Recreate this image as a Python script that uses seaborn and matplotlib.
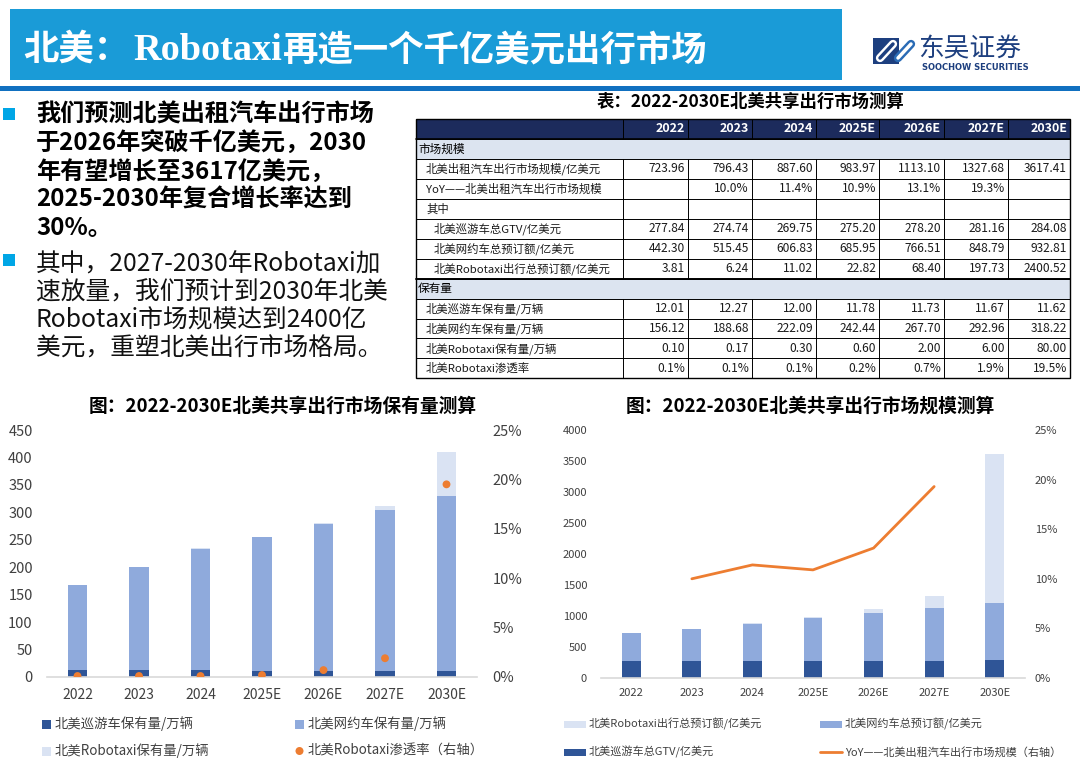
import numpy as np
import pandas as pd
import matplotlib
matplotlib.use("Agg")
import matplotlib.pyplot as plt
from matplotlib.patches import Rectangle, Circle, Polygon
from matplotlib.lines import Line2D
import seaborn as sns

# ---------------- data ----------------
years = ['2022', '2023', '2024', '2025E', '2026E', '2027E', '2030E']
taxi_market = [723.96, 796.43, 887.60, 983.97, 1113.10, 1327.68, 3617.41]
taxi_yoy = [np.nan, 10.0, 11.4, 10.9, 13.1, 19.3, np.nan]
cruise_gtv = [277.84, 274.74, 269.75, 275.20, 278.20, 281.16, 284.08]
ridehail_gmv = [442.30, 515.45, 606.83, 685.95, 766.51, 848.79, 932.81]
robotaxi_gmv = [3.81, 6.24, 11.02, 22.82, 68.40, 197.73, 2400.52]
cruise_fleet = [12.01, 12.27, 12.00, 11.78, 11.73, 11.67, 11.62]
ridehail_fleet = [156.12, 188.68, 222.09, 242.44, 267.70, 292.96, 318.22]
robotaxi_fleet = [0.10, 0.17, 0.30, 0.60, 2.00, 6.00, 80.00]
robotaxi_pen = [0.1, 0.1, 0.1, 0.2, 0.7, 1.9, 19.5]

fleet_ticks = [0, 50, 100, 150, 200, 250, 300, 350, 400, 450]
market_ticks = [0, 500, 1000, 1500, 2000, 2500, 3000, 3500, 4000]
pct_ticks = [0, 5, 10, 15, 20, 25]

page_title_parts = ['北美：', 'Robotaxi', '再造一个千亿美元出行市场']
bold_lines = ['我们预测北美出租汽车出行市场', '于2026年突破千亿美元，2030',
              '年有望增长至3617亿美元，', '2025-2030年复合增长率达到', '30%。']
normal_lines = ['其中，2027-2030年Robotaxi加', '速放量，我们预计到2030年北美',
                'Robotaxi市场规模达到2400亿', '美元，重塑北美出行市场格局。']
table_title = '表：2022-2030E北美共享出行市场测算'
chart1_title = '图：2022-2030E北美共享出行市场保有量测算'
chart2_title = '图：2022-2030E北美共享出行市场规模测算'
legend1_labels = ['北美巡游车保有量/万辆', '北美网约车保有量/万辆',
                  '北美Robotaxi保有量/万辆', '北美Robotaxi渗透率（右轴）']
legend2_labels = ['北美Robotaxi出行总预订额/亿美元', '北美网约车总预订额/亿美元',
                  '北美巡游车总GTV/亿美元', 'YoY——北美出租汽车出行市场规模（右轴）']

# ---------------- style ----------------
sns.set_theme(style='white')
plt.rcParams['font.family'] = ['Noto Sans CJK SC', 'DejaVu Sans']
plt.rcParams['axes.unicode_minus'] = False

DARK = '#2f5597'
MID = '#8faadc'
LIGHT = '#dae3f3'
ORANGE = '#ed7d31'
TXT = '#404040'

W, H = 1080, 772
fig = plt.figure(figsize=(W / 100, H / 100), dpi=100)
bg = fig.add_axes([0, 0, 1, 1])
bg.set_xlim(0, W)
bg.set_ylim(H, 0)
bg.axis('off')


def pax(x0, y0, x1, y1):
    return [x0 / W, 1 - y1 / H, (x1 - x0) / W, (y1 - y0) / H]


# ---------------- header ----------------
bg.add_patch(Rectangle((10, 9), 832, 71, color='#1a9bd7', lw=0))
bg.add_patch(Rectangle((0, 86), W, 5, color='#1170c0', lw=0))
bg.text(23, 60, page_title_parts[0], color='white', fontsize=25.5, fontweight='bold', va='baseline')
bg.text(133, 60, page_title_parts[1], color='white', fontsize=27.5, fontweight='bold',
        family=['Liberation Serif', 'DejaVu Serif'], va='baseline')
bg.text(283, 60, page_title_parts[2], color='white', fontsize=25.5, fontweight='bold', va='baseline')

# logo
bg.add_patch(Polygon([(873, 38), (899, 38), (899, 64), (873, 64)], closed=True, color='#1d3f7f', lw=0))
bg.add_line(Line2D([880, 893], [58, 44], color='white', lw=6, solid_capstyle='round'))
bg.add_line(Line2D([880, 893], [58, 44], color='#1d3f7f', lw=2.5, solid_capstyle='round'))
bg.add_line(Line2D([898, 911], [58, 44], color='#2a6bb5', lw=6, solid_capstyle='round'))
bg.add_line(Line2D([898, 911], [58, 44], color='white', lw=2.5, solid_capstyle='round'))
bg.text(918, 49, '东吴证券', color='#1d3f7f', fontsize=18.5, va='center', ha='left')
bg.text(922, 68, 'SOOCHOW SECURITIES', color='#1d3f7f', fontsize=6, fontweight='bold',
        va='center', ha='left', family=['DejaVu Sans'])

# ---------------- left text block ----------------
for yb in (114, 260):
    bg.add_patch(Rectangle((3, yb - 6), 12, 12, color='#00a6e6', lw=0))
for i, line in enumerate(bold_lines):
    bg.text(36, 115 + i * 28.3, line, fontsize=17.4, fontweight='bold', color='black', va='center')
for i, line in enumerate(normal_lines):
    bg.text(36, 265 + i * 27.7, line, fontsize=17.8, color='#111111', va='center')

# ---------------- table ----------------
bg.text(750, 102, table_title, fontsize=12.5, fontweight='bold', ha='center', va='center', color='black')
col_edges = [416, 623, 688, 752, 816, 879, 944, 1008, 1070]
row_top, row_h = 119, 19.95


def fmt2(v):
    return f'{v:.2f}'


def fmtp(v):
    return '' if (v is None or (isinstance(v, float) and np.isnan(v))) else f'{v:.1f}%'


rows = [
    ('header', None, None, 0),
    ('section', '市场规模', None, 0),
    ('data', '北美出租汽车出行市场规模/亿美元', [fmt2(v) for v in taxi_market], 1),
    ('data', 'YoY——北美出租汽车出行市场规模', [fmtp(v) for v in taxi_yoy], 1),
    ('data', '其中', [''] * 7, 1),
    ('data', '北美巡游车总GTV/亿美元', [fmt2(v) for v in cruise_gtv], 2),
    ('data', '北美网约车总预订额/亿美元', [fmt2(v) for v in ridehail_gmv], 2),
    ('data', '北美Robotaxi出行总预订额/亿美元', [fmt2(v) for v in robotaxi_gmv], 2),
    ('section', '保有量', None, 0),
    ('data', '北美巡游车保有量/万辆', [fmt2(v) for v in cruise_fleet], 1),
    ('data', '北美网约车保有量/万辆', [fmt2(v) for v in ridehail_fleet], 1),
    ('data', '北美Robotaxi保有量/万辆', [fmt2(v) for v in robotaxi_fleet], 1),
    ('data', '北美Robotaxi渗透率', [fmtp(v) for v in robotaxi_pen], 1),
]
indent_x = {0: 418, 1: 426, 2: 434}
x0t, x1t = col_edges[0], col_edges[-1]
for r, (kind, label, vals, ind) in enumerate(rows):
    y0 = row_top + r * row_h
    yc = y0 + row_h / 2
    if kind == 'header':
        bg.add_patch(Rectangle((x0t, y0), x1t - x0t, row_h, color='#1c2b5c', lw=0))
        for c, yr in enumerate(years):
            bg.text(col_edges[c + 2] - 3, yc, yr, color='white', fontsize=9, fontweight='bold',
                    ha='right', va='center')
        for xe in col_edges[1:-1]:
            bg.add_line(Line2D([xe, xe], [y0, y0 + row_h], color='black', lw=0.7))
    elif kind == 'section':
        bg.add_patch(Rectangle((x0t, y0), x1t - x0t, row_h, color='#dce4f0', lw=0))
        bg.text(indent_x[ind], yc, label, fontsize=8.4, color='black', ha='left', va='center')
    else:
        bg.text(indent_x[ind], yc, label, fontsize=8.2, color='#1a1a1a', ha='left', va='center')
        for c, v in enumerate(vals):
            bg.text(col_edges[c + 2] - 3, yc, v, fontsize=8.6, color='#1a1a1a', ha='right', va='center')
        for xe in col_edges[1:-1]:
            bg.add_line(Line2D([xe, xe], [y0, y0 + row_h], color='black', lw=0.7))
    bg.add_line(Line2D([x0t, x1t], [y0, y0], color='black', lw=0.7))
bg.add_line(Line2D([x0t, x1t], [row_top + 8 * row_h] * 2, color='black', lw=1.4))
bg.add_line(Line2D([x0t, x1t], [row_top + 1 * row_h] * 2, color='black', lw=1.2))
bg.add_patch(Rectangle((x0t, row_top), x1t - x0t, len(rows) * row_h, fill=False, ec='black', lw=1.0))


# ---------------- chart helpers ----------------
def style_axes(ax, axr, xsize, ysize, rsize, lpad, rpad, xpad):
    for s in ['top', 'right', 'left']:
        ax.spines[s].set_visible(False)
    ax.spines['bottom'].set_color('#d9d9d9')
    ax.spines['bottom'].set_linewidth(1.2)
    for s in axr.spines.values():
        s.set_visible(False)
    ax.tick_params(axis='y', length=0, labelsize=ysize, labelcolor=TXT, pad=lpad)
    ax.tick_params(axis='x', length=0, labelsize=xsize, labelcolor=TXT, pad=xpad)
    axr.tick_params(axis='y', length=0, labelsize=rsize, labelcolor=TXT, pad=rpad)
    ax.set_xlabel('')
    ax.set_ylabel('')
    axr.set_xlabel('')
    axr.set_ylabel('')
    ax.grid(False)
    axr.grid(False)


bar_kw = dict(width=0.31, saturation=1, linewidth=0, edgecolor='none')
xpos = np.arange(len(years))

# ---------------- chart 1: fleet ----------------
ax1 = fig.add_axes(pax(46.75, 430, 477.25, 677))
df1 = pd.DataFrame({'year': years, 'cruise': cruise_fleet, 'ride': ridehail_fleet,
                    'robo': robotaxi_fleet, 'pen': robotaxi_pen})
df1['mid'] = df1['cruise'] + df1['ride']
df1['top'] = df1['mid'] + df1['robo']
sns.barplot(data=df1, x='year', y='top', color=LIGHT, ax=ax1, **bar_kw)
sns.barplot(data=df1, x='year', y='mid', color=MID, ax=ax1, **bar_kw)
sns.barplot(data=df1, x='year', y='cruise', color=DARK, ax=ax1, **bar_kw)
ax1r = ax1.twinx()
sns.scatterplot(x=xpos, y=df1['pen'].values, color=ORANGE, s=32, edgecolor='none', ax=ax1r,
                zorder=5, legend=False)
ax1.set_ylim(0, 450)
ax1.set_yticks(fleet_ticks)
ax1.set_yticklabels([str(v) for v in fleet_ticks])
ax1r.set_ylim(0, 25)
ax1r.set_yticks(pct_ticks)
ax1r.set_yticklabels([f'{v}%' for v in pct_ticks])
ax1.set_xticks(xpos)
ax1.set_xticklabels(years)
ax1.set_xlim(-0.5, 6.5)
style_axes(ax1, ax1r, 10, 10.5, 10.5, 10, 11, 8)
bg.text(283, 406, chart1_title, fontsize=13.5, fontweight='bold', ha='center', va='center', color='black')

# legend 1
leg1 = [(42, 724, 'sq', DARK), (295, 724, 'sq', MID), (42, 751, 'sq', LIGHT), (295, 751, 'dot', ORANGE)]
for (lx, ly, kind, colr), lab in zip(leg1, legend1_labels):
    if kind == 'sq':
        bg.add_patch(Rectangle((lx, ly - 4.5), 9, 9, color=colr, lw=0))
    else:
        bg.add_patch(Circle((lx + 4.5, ly), 4, color=colr, lw=0))
    bg.text(lx + 13, ly, lab, fontsize=9.6, color=TXT, ha='left', va='center')

# ---------------- chart 2: market ----------------
ax2 = fig.add_axes(pax(601, 430, 1025, 678))
df2 = pd.DataFrame({'year': years, 'gtv': cruise_gtv, 'ride': ridehail_gmv,
                    'robo': robotaxi_gmv, 'yoy': taxi_yoy})
df2['mid'] = df2['gtv'] + df2['ride']
df2['top'] = df2['mid'] + df2['robo']
sns.barplot(data=df2, x='year', y='top', color=LIGHT, ax=ax2, **bar_kw)
sns.barplot(data=df2, x='year', y='mid', color=MID, ax=ax2, **bar_kw)
sns.barplot(data=df2, x='year', y='gtv', color=DARK, ax=ax2, **bar_kw)
ax2r = ax2.twinx()
sns.lineplot(x=xpos, y=df2['yoy'].values, color=ORANGE, linewidth=2.0, ax=ax2r,
             errorbar=None, legend=False)
ax2.set_ylim(0, 4000)
ax2.set_yticks(market_ticks)
ax2.set_yticklabels([str(v) for v in market_ticks])
ax2r.set_ylim(0, 25)
ax2r.set_yticks(pct_ticks)
ax2r.set_yticklabels([f'{v}%' for v in pct_ticks])
ax2.set_xticks(xpos)
ax2.set_xticklabels(years)
ax2.set_xlim(-0.5, 6.5)
style_axes(ax2, ax2r, 8, 8, 8, 10, 7, 7)
bg.text(810, 406, chart2_title, fontsize=13.5, fontweight='bold', ha='center', va='center', color='black')

# legend 2
leg2 = [(564, 724, 'bar', LIGHT), (820, 724, 'bar', MID), (564, 752, 'bar', DARK), (820, 752, 'line', ORANGE)]
for (lx, ly, kind, colr), lab in zip(leg2, legend2_labels):
    if kind == 'bar':
        bg.add_patch(Rectangle((lx, ly - 3.5), 22, 7, color=colr, lw=0))
    else:
        bg.add_line(Line2D([lx, lx + 22], [ly, ly], color=colr, lw=2.0))
    bg.text(lx + 25, ly, lab, fontsize=8, color=TXT, ha='left', va='center')

fig.savefig('out.png', dpi=100)
